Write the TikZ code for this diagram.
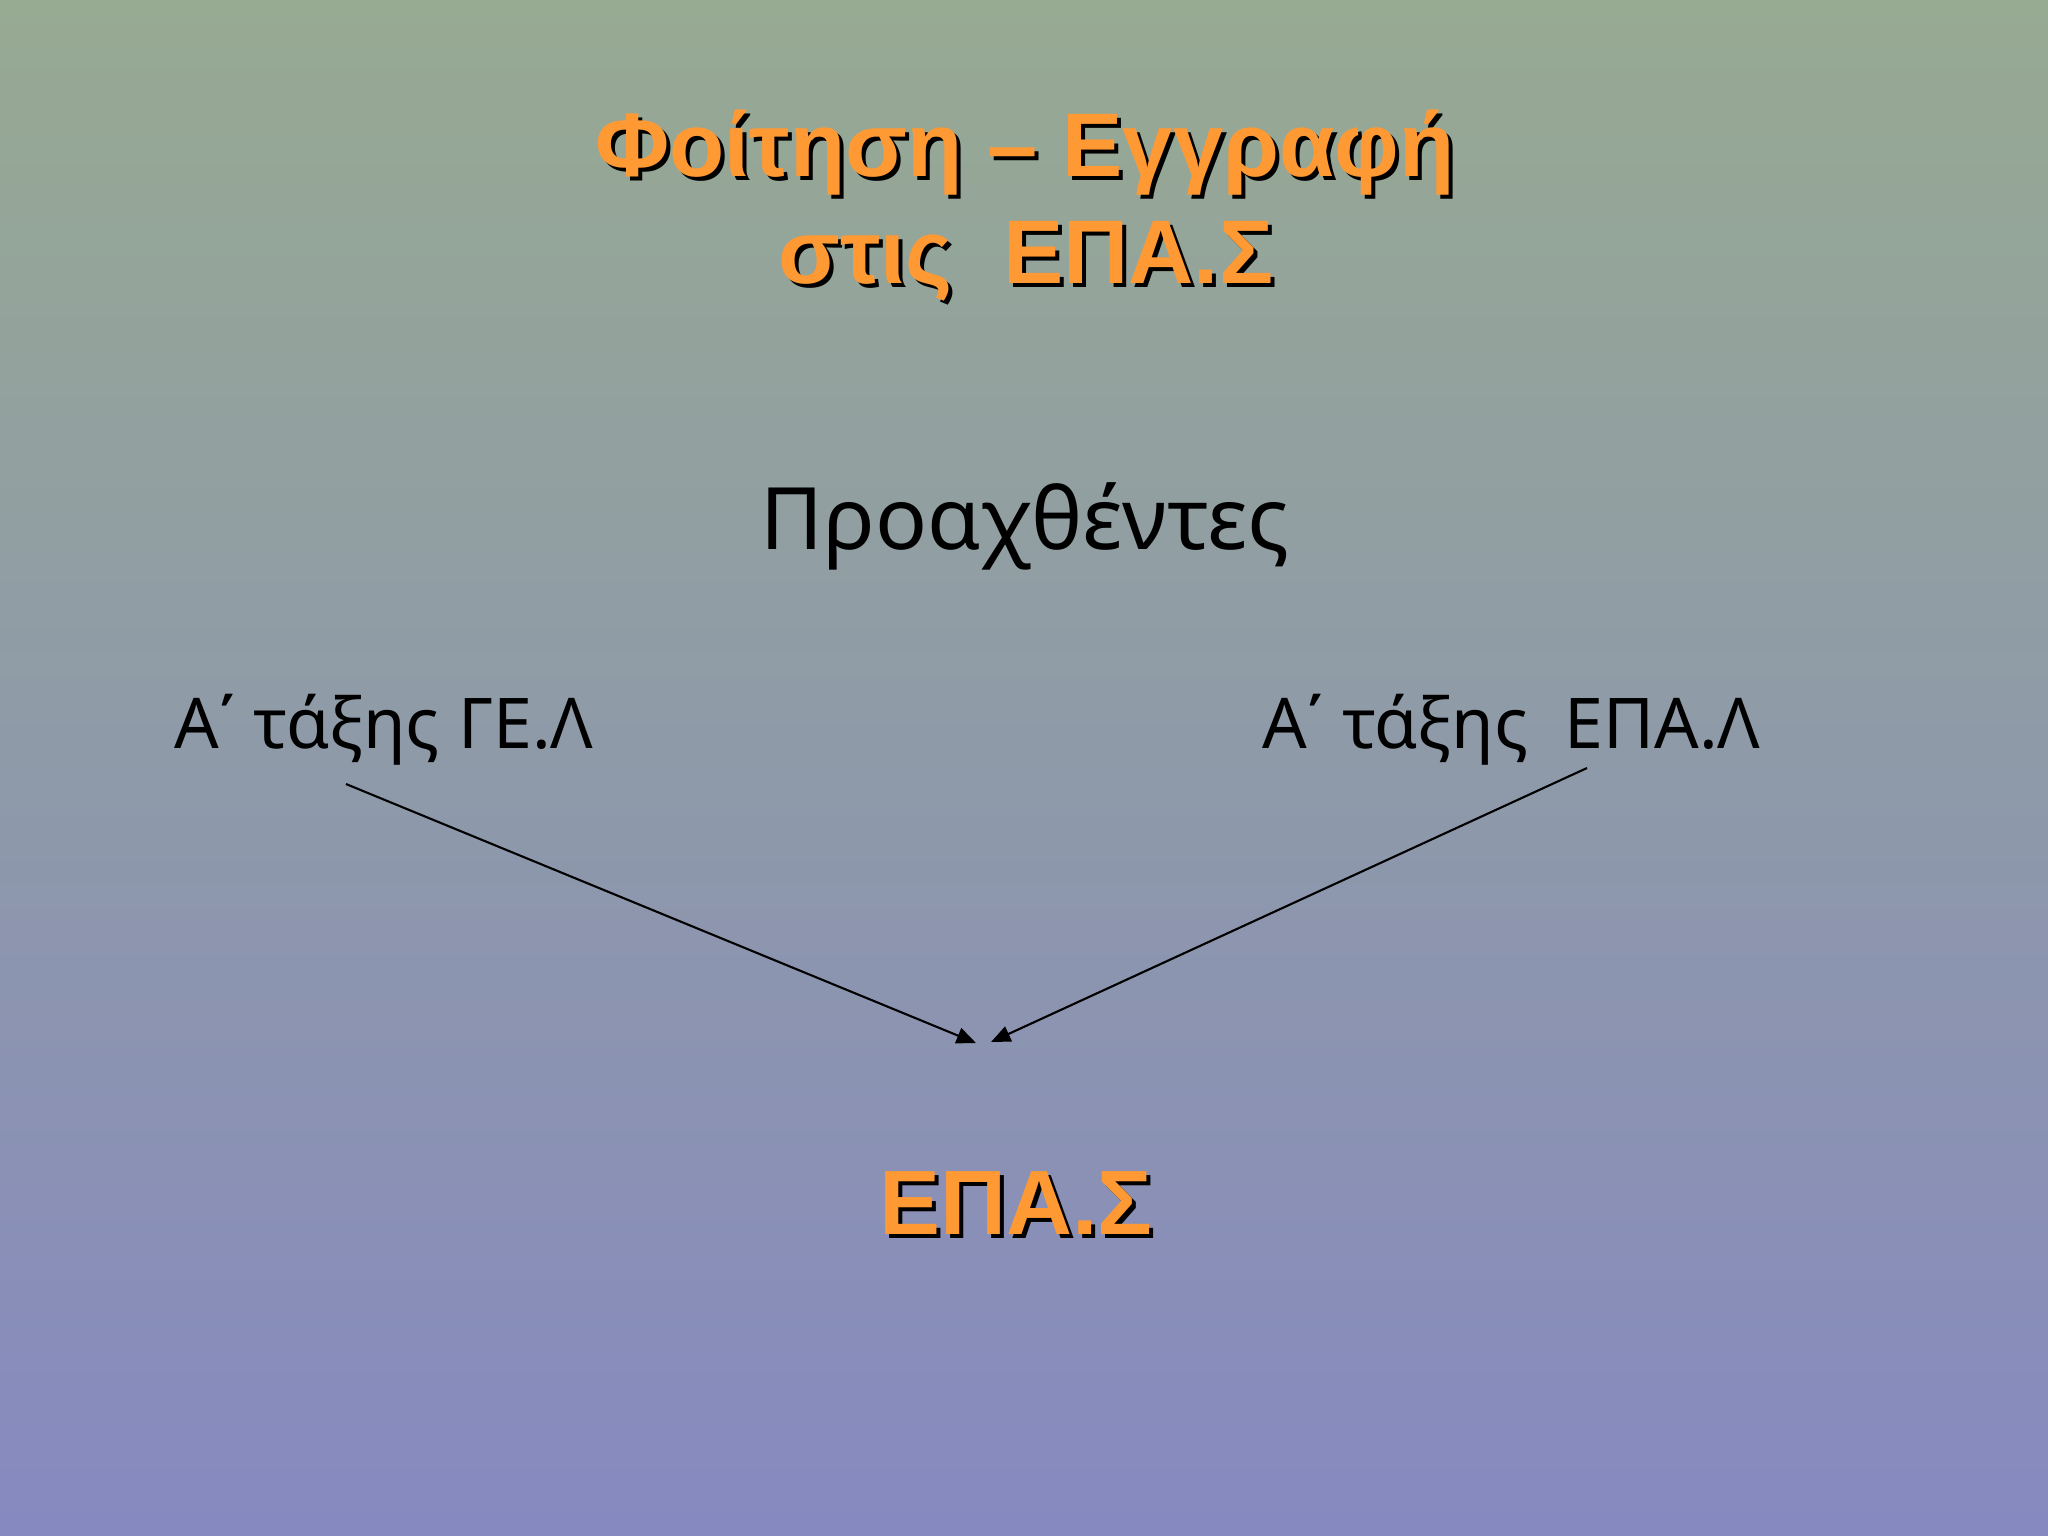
\documentclass[tikz,border=0pt]{standalone}
\usepackage{fontspec}
\setmainfont{Noto Sans}
\newfontfamily\titlefont{Liberation Sans}
\usetikzlibrary{arrows.meta}
\definecolor{bgtop}{RGB}{151,170,146}
\definecolor{bgbottom}{RGB}{134,137,192}
\definecolor{slideorange}{RGB}{255,153,51}
\tikzset{
	titletxt/.style={anchor=base, inner sep=0pt, text=slideorange, font=\titlefont\bfseries\fontsize{25.7}{30}\selectfont},
	titleshadow/.style={anchor=base, inner sep=0pt, text=black, font=\titlefont\bfseries\fontsize{25.7}{30}\selectfont},
	classlabel/.style={anchor=base west, inner sep=0pt, font=\fontsize{19.9}{23}\selectfont},
	pointer/.style={line width=0.6pt, -{Triangle[length=5.5pt, width=4.6pt]}}
}

\begin{document}
\begin{tikzpicture}[x=0.01cm, y=-0.01cm]
			%%%%% START %%%%%
			
			\shade[top color=bgtop, bottom color=bgbottom] (0, 0) rectangle (2048, 1536);
			\useasboundingbox (0, 0) rectangle (2048, 1536);
			
			% title, with its shadow
			\node[titleshadow] (titleAs) at (1029, 180) {Φοίτηση – Εγγραφή};
			\node[titletxt] (titleA) at (1025, 176) {Φοίτηση – Εγγραφή};
			\node[titleshadow] (titleBs) at (1030, 287) {στις\ \ ΕΠΑ.Σ};
			\node[titletxt] (titleB) at (1026, 283) {στις\ \ ΕΠΑ.Σ};
			
			\node[anchor=base, inner sep=0pt, font=\fontsize{24.5}{29}\selectfont] (promoted) at (1025, 549) {Προαχθέντες};
			
			\node[classlabel] (gel) at (174, 748) {Α΄ τάξης ΓΕ.Λ};
			\node[classlabel] (epal) at (1262, 748) {Α΄ τάξης\ \ ΕΠΑ.Λ};
			
			\node[titleshadow, font=\titlefont\bfseries\fontsize{26}{30}\selectfont] (epasS) at (1020, 1238) {ΕΠΑ.Σ};
			\node[titletxt, font=\titlefont\bfseries\fontsize{26}{30}\selectfont] (epas) at (1016, 1234) {ΕΠΑ.Σ};
			
			% arrows
			\coordinate (gelfoot) at (346, 784);
			\coordinate (epalfoot) at (1587, 768);
			\coordinate (leftend) at (976, 1043);
			\coordinate (rightend) at (991, 1042);
			\draw[pointer] (gelfoot) -- (leftend);
			\draw[pointer] (epalfoot) -- (rightend);
			
			%%%%% END %%%%%
\end{tikzpicture}
\end{document}
